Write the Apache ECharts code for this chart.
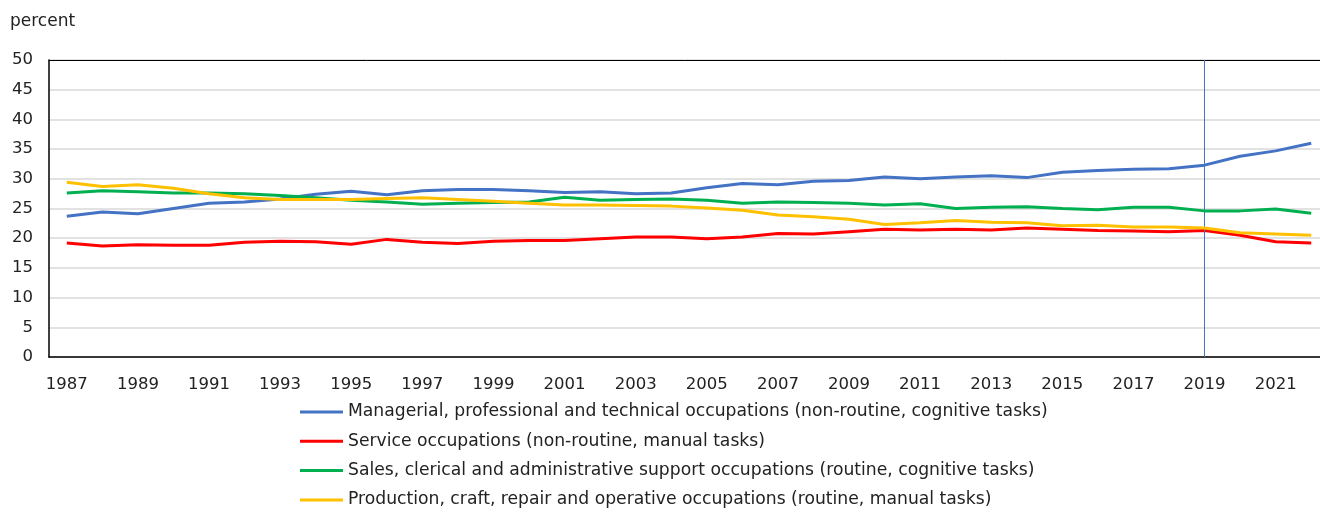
<!DOCTYPE html>
<html>
<head>
<meta charset="utf-8">
<script src="https://cdn.jsdelivr.net/npm/echarts@6/dist/echarts.min.js"></script>
<style>
  html, body { margin: 0; padding: 0; background: #fff; }
  #chart { width: 1320px; height: 508px; }
</style>
</head>
<body>
<div id="chart"></div>
<script>
// Share of employment by occupation group, 1987-2022
const years = [];
for (let y = 1987; y <= 2022; y++) years.push(String(y));

const managerial = [23.7, 24.4, 24.1, 25.0, 25.9, 26.1, 26.6, 27.4, 27.9, 27.3, 28.0, 28.2, 28.2, 28.0, 27.7, 27.8, 27.5, 27.6, 28.5, 29.2, 29.0, 29.6, 29.7, 30.3, 30.0, 30.3, 30.5, 30.2, 31.1, 31.4, 31.6, 31.7, 32.3, 33.8, 34.7, 36.0];
const service = [19.2, 18.7, 18.9, 18.8, 18.8, 19.3, 19.5, 19.4, 19.0, 19.8, 19.3, 19.1, 19.5, 19.6, 19.6, 19.9, 20.2, 20.2, 19.9, 20.2, 20.8, 20.7, 21.1, 21.5, 21.4, 21.5, 21.4, 21.7, 21.5, 21.3, 21.2, 21.1, 21.3, 20.5, 19.4, 19.2];
const sales = [27.6, 28.0, 27.8, 27.6, 27.6, 27.5, 27.2, 26.8, 26.4, 26.1, 25.7, 25.9, 26.0, 26.1, 26.9, 26.4, 26.5, 26.6, 26.4, 25.9, 26.1, 26.0, 25.9, 25.6, 25.8, 25.0, 25.2, 25.3, 25.0, 24.8, 25.2, 25.2, 24.6, 24.6, 24.9, 24.2];
const production = [29.4, 28.7, 29.0, 28.4, 27.5, 26.8, 26.5, 26.5, 26.5, 26.7, 26.8, 26.5, 26.2, 25.9, 25.6, 25.6, 25.5, 25.4, 25.1, 24.7, 23.9, 23.6, 23.2, 22.3, 22.6, 23.0, 22.7, 22.6, 22.1, 22.2, 21.9, 21.9, 21.7, 20.9, 20.7, 20.5];

const seriesNames = [
  'Managerial, professional and technical occupations (non-routine, cognitive tasks)',
  'Service occupations (non-routine, manual tasks)',
  'Sales, clerical and administrative support occupations (routine, cognitive tasks)',
  'Production, craft, repair and operative occupations (routine, manual tasks)'
];
const markerYear = '2019';

const FONT = 'DejaVu Sans, Verdana, sans-serif';
const colors = ['#4472C4', '#FF0000', '#00B050', '#FFC000'];
const values = [managerial, service, sales, production];

const chart = echarts.init(document.getElementById('chart'));

const series = values.map((data, i) => ({
  name: seriesNames[i],
  type: 'line',
  data: data,
  symbol: 'none',
  smooth: false,
  lineStyle: { width: 3, color: colors[i] },
  itemStyle: { color: colors[i] },
  z: 3 + i,
  markLine: i === 0 ? {
    silent: true,
    symbol: 'none',
    label: { show: false },
    lineStyle: { color: '#4472C4', width: 1, type: 'solid' },
    data: [{ xAxis: markerYear }]
  } : undefined
}));

chart.setOption({
  animation: false,
  color: colors,
  title: {
    text: 'percent',
    left: 5,
    top: 8,
    textStyle: { fontFamily: FONT, fontSize: 17, fontWeight: 'normal', color: '#222' }
  },
  grid: {
    left: 49,
    top: 60,
    bottom: 151,
    right: -9,
    outerBoundsMode: 'none',
    containLabel: false,
    show: false
  },
  legend: {
    orient: 'vertical',
    left: 295,
    top: 397,
    height: 130,
    icon: 'rect',
    itemWidth: 43,
    itemHeight: 3,
    itemGap: 9.3,
    textStyle: { fontFamily: FONT, fontSize: 17.2, lineHeight: 20, color: '#222' },
    data: seriesNames
  },
  xAxis: [{
    type: 'category',
    data: years,
    boundaryGap: true,
    axisLine: { lineStyle: { color: '#000', width: 1.5 } },
    axisTick: { show: false },
    axisLabel: {
      interval: 1,
      fontFamily: FONT,
      fontSize: 16.5,
      color: '#222',
      margin: 19
    },
    splitLine: { show: false }
  }, {
    // top frame of the plot area
    type: 'category',
    data: years,
    position: 'top',
    axisLine: { show: true, onZero: false, lineStyle: { color: '#000', width: 1 } },
    axisTick: { show: false },
    axisLabel: { show: false },
    splitLine: { show: false }
  }],
  yAxis: {
    type: 'value',
    min: 0,
    max: 50,
    interval: 5,
    axisLine: { show: true, lineStyle: { color: '#000', width: 1.5 } },
    axisTick: { show: false },
    axisLabel: { fontFamily: FONT, fontSize: 16.5, color: '#222', margin: 16 },
    splitLine: { lineStyle: { color: '#d9d9d9', width: 1.5 } }
  },
  series: series
});
</script>
</body>
</html>
